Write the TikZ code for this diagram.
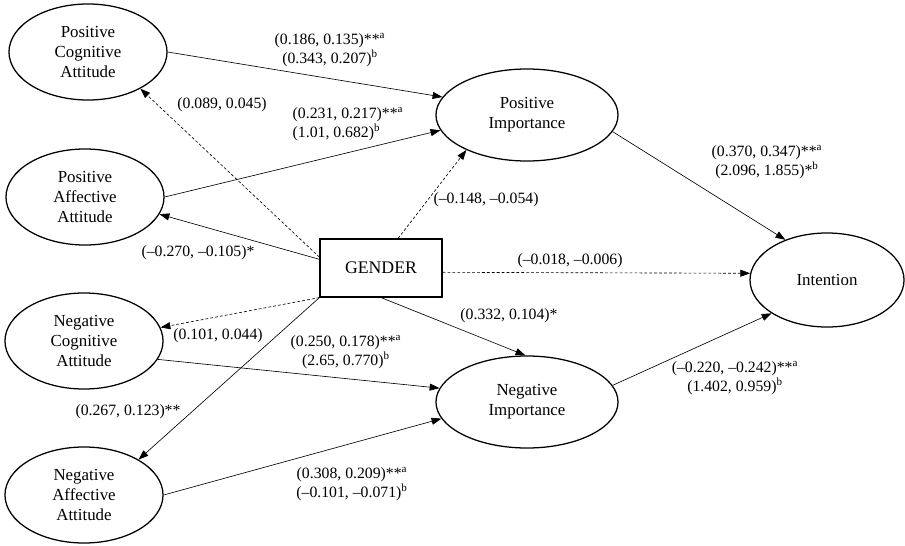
\documentclass[tikz,border=0pt]{standalone}
\usepackage{fontspec}
\setmainfont{Liberation Serif}
\usetikzlibrary{arrows.meta,shapes.geometric}

\begin{document}
\begin{tikzpicture}[x=0.025cm,y=-0.025cm,
  latent/.style={ellipse,draw,line width=0.9pt,inner sep=0pt,align=center,
    font=\fontsize{12}{14.5}\selectfont},
  attbox/.style={latent,minimum width=3.95cm,minimum height=2.4cm},
  impbox/.style={latent,minimum width=4.55cm,minimum height=2.3cm},
  link/.style={-{Triangle[length=7pt,width=5pt]},line width=0.45pt},
  nslink/.style={link,dash pattern=on 2pt off 1.5pt},
  coef/.style={font=\fontsize{11.2}{13.5}\selectfont,align=center,inner sep=0pt}]
  \useasboundingbox (0,0) rectangle (905,545);
  % constructs
  \node[attbox] (pca) at (88,52)  {Positive\\Cognitive\\Attitude};
  \node[attbox] (paa) at (85,197) {Positive\\Affective\\Attitude};
  \node[attbox] (nca) at (84,341) {Negative\\Cognitive\\Attitude};
  \node[attbox] (naa) at (84,495) {Negative\\Affective\\Attitude};
  \node[impbox] (pi) at (527,115) {Positive\\Importance};
  \node[impbox] (ni) at (527,402) {Negative\\Importance};
  \node[latent,minimum width=3.85cm,minimum height=2.35cm] (int) at (827,280) {Intention};
  \node[draw,line width=0.8pt,minimum width=3.05cm,minimum height=1.45cm,
    font=\fontsize{12.6}{15}\selectfont] (gender) at (381,268) {GENDER};
  % paths
  \draw[link] (pca.east) -- (pi.168);
  \draw[link] (paa.east) -- (pi.190);
  \draw[link] (nca.-14) -- (ni.171);
  \draw[link] (naa.east) -- (ni.191);
  \draw[link] (pi.-11) -- (int.136);
  \draw[link] (ni.11) -- (int.211);
  \draw[nslink] (gender.170) -- (pca.-35);
  \draw[link] (gender.172) -- (paa.-13);
  \draw[nslink] (gender.60) -- (pi.210);
  \draw[nslink] (gender.-4) -- (int.175);
  \draw[nslink] (gender.south west) -- (nca.10);
  \draw[link] (gender.south west) -- (naa.33);
  \draw[link] (gender.south) -- (ni.92);
  % coefficients
  \node[coef] (c1) at (330,50) {(0.186, 0.135)**\textsuperscript{a}\\(0.343, 0.207)\textsuperscript{b}};
  \node[coef] (c2) at (222,105) {(0.089, 0.045)};
  \node[coef,align=left] (c3) at (348,124) {(0.231, 0.217)**\textsuperscript{a}\\(1.01, 0.682)\textsuperscript{b}};
  \node[coef] (c4) at (486,200) {(--0.148, --0.054)};
  \node[coef] (c5) at (767,162) {(0.370, 0.347)**\textsuperscript{a}\\(2.096, 1.855)*\textsuperscript{b}};
  \node[coef] (c6) at (198,253) {(--0.270, --0.105)*};
  \node[coef] (c7) at (570,261) {(--0.018, --0.006)};
  \node[coef] (c8) at (218,336) {(0.101, 0.044)};
  \node[coef] (c9) at (509,316) {(0.332, 0.104)*};
  \node[coef] (c10) at (346,352) {(0.250, 0.178)**\textsuperscript{a}\\(2.65, 0.770)\textsuperscript{b}};
  \node[coef] (c11) at (735,378) {(--0.220, --0.242)**\textsuperscript{a}\\(1.402, 0.959)\textsuperscript{b}};
  \node[coef] (c12) at (128,412) {(0.267, 0.123)**};
  \node[coef] (c13) at (352,484) {(0.308, 0.209)**\textsuperscript{a}\\(--0.101, --0.071)\textsuperscript{b}};
\end{tikzpicture}
\end{document}
